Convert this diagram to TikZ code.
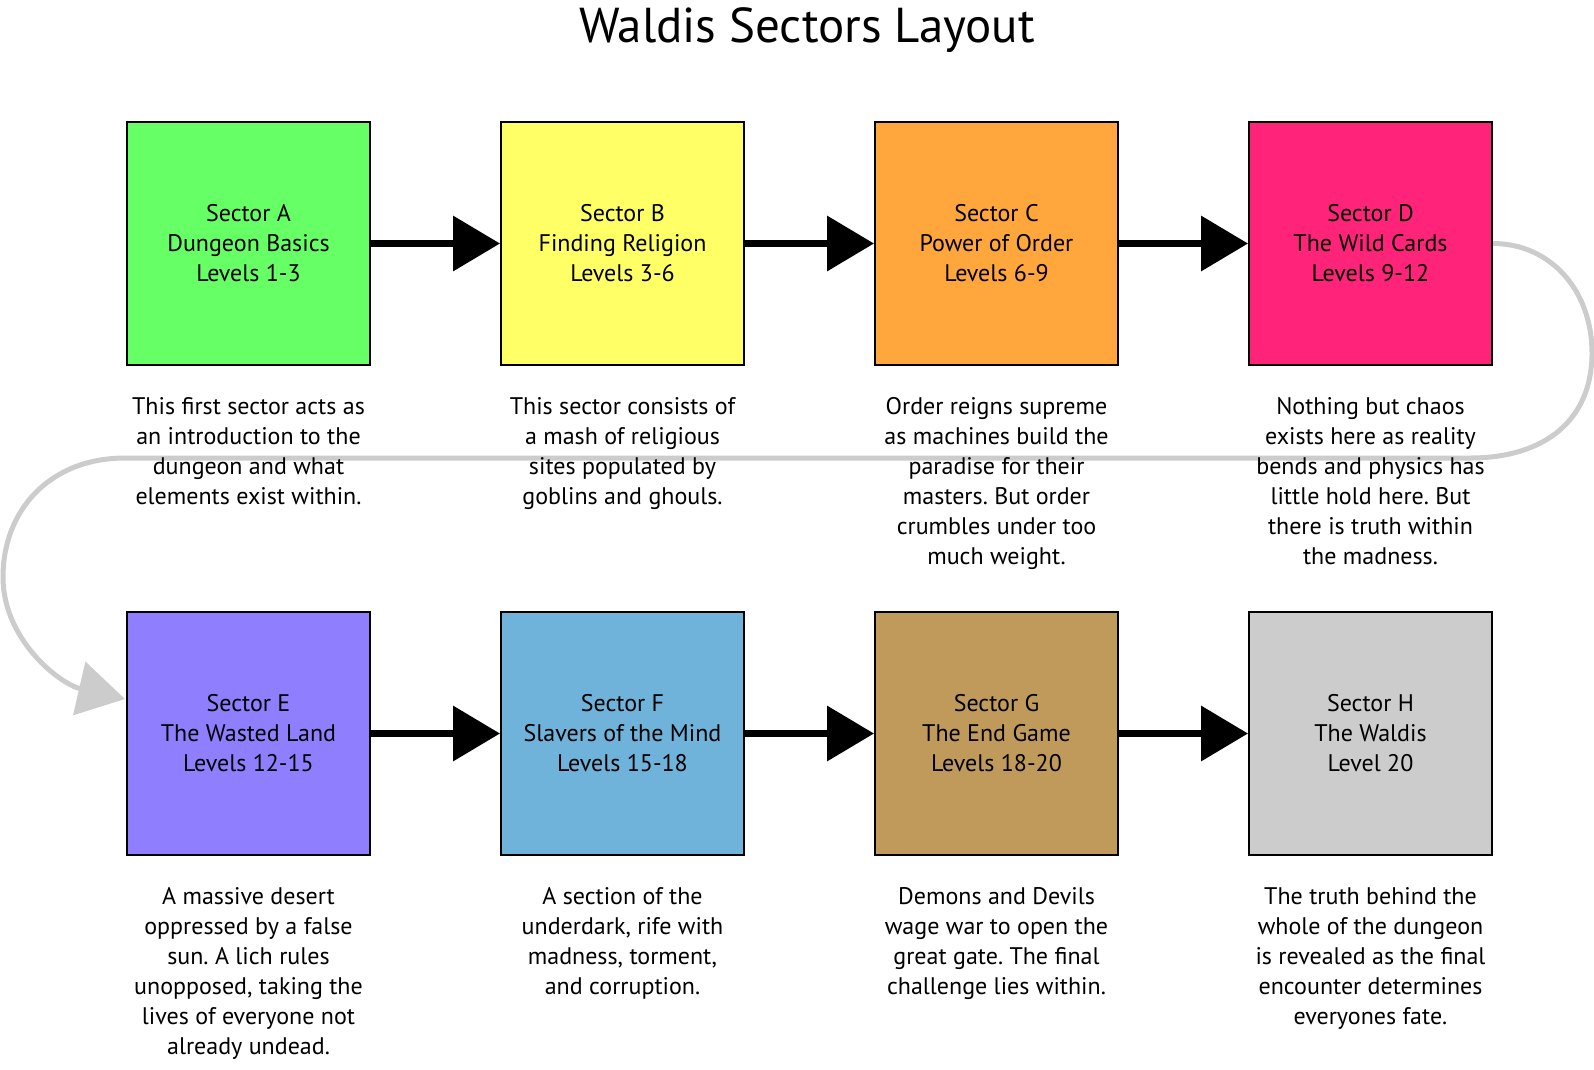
\documentclass[tikz,border=0pt]{standalone}
\usepackage{fontspec}
\setmainfont{PT Sans}
\usetikzlibrary{arrows.meta}
\definecolor{cA}{RGB}{102,255,102}
\definecolor{cB}{RGB}{255,255,102}
\definecolor{cC}{RGB}{255,166,60}
\definecolor{cD}{RGB}{255,36,121}
\definecolor{cE}{RGB}{143,127,255}
\definecolor{cF}{RGB}{111,179,218}
\definecolor{cG}{RGB}{192,154,91}
\definecolor{cH}{RGB}{204,204,204}
\definecolor{cLine}{RGB}{204,204,204}
\tikzset{
  sectorbox/.style={draw=black, line width=2pt, minimum width=243pt, minimum height=243pt, inner sep=0pt, align=center, font=\fontsize{24}{30}\selectfont\frenchspacing},
  desc/.style={anchor=north, inner sep=0pt, align=center, font=\fontsize{24}{30}\selectfont\frenchspacing},
  blackarr/.style={draw=black, line width=7pt, -{Triangle[length=47pt,width=54pt]}},
  grayarr/.style={draw=cLine, line width=5pt, -{Triangle[length=47pt,width=54pt]}},
}
\begin{document}
\begin{tikzpicture}[x=1pt,y=-1pt]
\useasboundingbox (0,0) rectangle (1594,1069);
\node[anchor=base, inner sep=0pt, font=\fontsize{49}{58}\selectfont] (title) at (807,42) {Waldis Sectors Layout};
% boxes
\node[sectorbox, fill=cA] (A) at (248.5,243.5) {Sector A\\Dungeon Basics\\Levels 1-3};
\node[sectorbox, fill=cB] (B) at (622.5,243.5) {Sector B\\Finding Religion\\Levels 3-6};
\node[sectorbox, fill=cC] (C) at (996.5,243.5) {Sector C\\Power of Order\\Levels 6-9};
\node[sectorbox, fill=cD] (D) at (1370.5,243.5) {Sector D\\The Wild Cards\\Levels 9-12};
\node[sectorbox, fill=cE] (E) at (248.5,733.5) {Sector E\\The Wasted Land\\Levels 12-15};
\node[sectorbox, fill=cF] (F) at (622.5,733.5) {Sector F\\Slavers of the Mind\\Levels 15-18};
\node[sectorbox, fill=cG] (G) at (996.5,733.5) {Sector G\\The End Game\\Levels 18-20};
\node[sectorbox, fill=cH] (H) at (1370.5,733.5) {Sector H\\The Waldis\\Level 20};
% gray connector
\coordinate (Ein) at (125,699);
\draw[grayarr] (D.east) .. controls (1550,243.5) and (1592,290) .. (1592,353)
  .. controls (1592,420) and (1545,458) .. (1470,458) -- (125,458)
  .. controls (50,458) and (3,510) .. (3,577)
  .. controls (3,640) and (60,684) .. (Ein);
% black arrows
\draw[blackarr] (A) -- (B);
\draw[blackarr] (B) -- (C);
\draw[blackarr] (C) -- (D);
\draw[blackarr] (E) -- (F);
\draw[blackarr] (F) -- (G);
\draw[blackarr] (G) -- (H);
% descriptions
\node[desc] (dA) at (248.5,397) {This first sector acts as\\an introduction to the\\dungeon and what\\elements exist within.};
\node[desc] (dB) at (622.5,397) {This sector consists of\\a mash of religious\\sites populated by\\goblins and ghouls.};
\node[desc] (dC) at (996.5,397) {Order reigns supreme\\as machines build the\\paradise for their\\masters. But order\\crumbles under too\\much weight.};
\node[desc] (dD) at (1370.5,397) {Nothing but chaos\\exists here as reality\\bends and physics has\\little hold here. But\\there is truth within\\the madness.};
\node[desc] (dE) at (248.5,887) {A massive desert\\oppressed by a false\\sun. A lich rules\\unopposed, taking the\\lives of everyone not\\already undead.};
\node[desc] (dF) at (622.5,887) {A section of the\\underdark, rife with\\madness, torment,\\and corruption.};
\node[desc] (dG) at (996.5,887) {Demons and Devils\\wage war to open the\\great gate. The final\\challenge lies within.};
\node[desc] (dH) at (1370.5,887) {The truth behind the\\whole of the dungeon\\is revealed as the final\\encounter determines\\everyones fate.};
\end{tikzpicture}
\end{document}
